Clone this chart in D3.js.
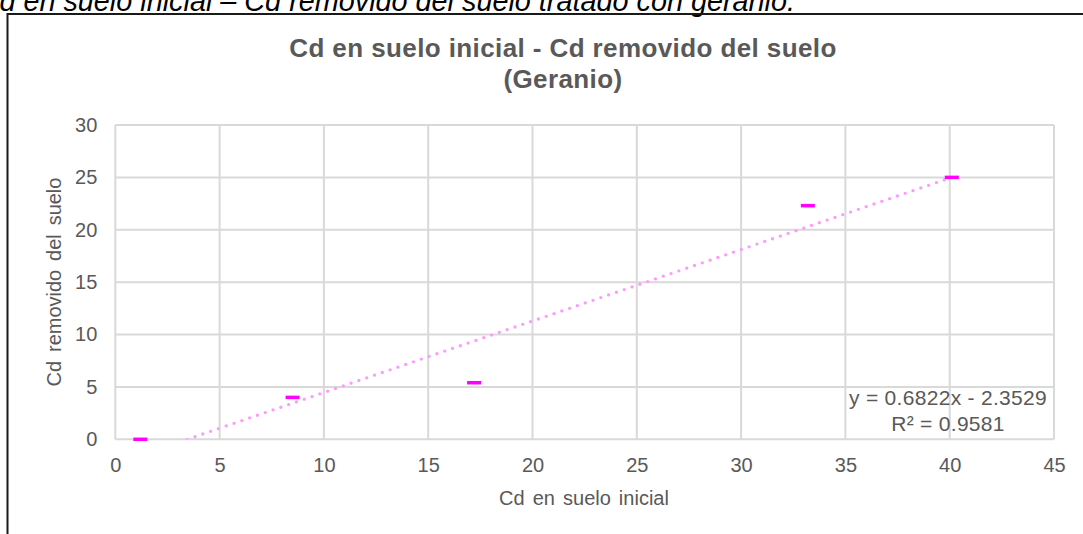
<!DOCTYPE html>
<html>
<head>
<meta charset="utf-8">
<script src="https://cdn.jsdelivr.net/npm/d3@7"></script>
<style>
  body { margin: 0; background: #fff; }
  svg { display: block; font-family: "Liberation Sans", Arial, sans-serif; }
</style>
</head>
<body>
<svg id="chart" width="1083" height="534"></svg>
<script>
// data
const sueloInicial = [1.2, 8.5, 17.2, 33.2, 40.1];
const cdRemovido = [0, 4.0, 5.4, 22.3, 25.0];
const xTicks = [0, 5, 10, 15, 20, 25, 30, 35, 40, 45];
const yTicks = [0, 5, 10, 15, 20, 25, 30];
const slope = 0.6822, intercept = -2.3529;
const eqLines = ['y = 0.6822x - 2.3529', 'R² = 0.9581'];

const svg = d3.select('#chart');
const grey = '#595959';

const m = { left: 115.3, right: 1054, top: 125, bottom: 439.3 };
const x = d3.scaleLinear().domain([0, 45]).range([m.left, m.right]);
const y = d3.scaleLinear().domain([0, 30]).range([m.bottom, m.top]);

// caption cut off at top of the page
svg.append('text')
  .attr('x', 795).attr('y', 10.5)
  .attr('text-anchor', 'end')
  .attr('font-size', 28.8).attr('font-style', 'italic').attr('fill', '#000')
  .text('Cd en suelo inicial – Cd removido del suelo tratado con geranio.');

// chart frame (runs off right and bottom)
svg.append('rect')
  .attr('x', 7.5).attr('y', 14).attr('width', 1200).attr('height', 600)
  .attr('fill', 'none').attr('stroke', '#1a1a1a').attr('stroke-width', 2);

// title
const title = svg.append('text')
  .attr('text-anchor', 'middle').attr('font-weight', 'bold')
  .attr('font-size', 26).attr('letter-spacing', 0.4)
  .attr('fill', grey);
title.append('tspan').attr('x', 563).attr('y', 57).text('Cd en suelo inicial - Cd removido del suelo');
title.append('tspan').attr('x', 563).attr('y', 88).text('(Geranio)');

// gridlines
svg.append('g')
  .selectAll('line').data(xTicks).join('line')
  .attr('x1', d => x(d)).attr('x2', d => x(d))
  .attr('y1', m.top).attr('y2', m.bottom)
  .attr('stroke', '#d9d9d9').attr('stroke-width', 2);
svg.append('g')
  .selectAll('line').data(yTicks).join('line')
  .attr('x1', m.left).attr('x2', m.right)
  .attr('y1', d => y(d)).attr('y2', d => y(d))
  .attr('stroke', '#d9d9d9').attr('stroke-width', 2);

// axes (labels only, Excel style)
const xAxis = svg.append('g')
  .attr('transform', `translate(0,${m.bottom})`)
  .call(d3.axisBottom(x).tickValues(xTicks).tickSize(0).tickPadding(19));
const yAxis = svg.append('g')
  .attr('transform', `translate(${m.left},0)`)
  .call(d3.axisLeft(y).tickValues(yTicks).tickSize(0).tickPadding(18));
[xAxis, yAxis].forEach(g => {
  g.select('.domain').remove();
  g.selectAll('text').attr('font-size', 20).attr('fill', grey)
    .attr('font-family', '"Liberation Sans", Arial, sans-serif');
});

// axis titles
svg.append('text')
  .attr('x', 584).attr('y', 505).attr('text-anchor', 'middle')
  .attr('font-size', 20).attr('word-spacing', 2.5).attr('fill', grey)
  .text('Cd en suelo inicial');
svg.append('text')
  .attr('transform', 'translate(61,282) rotate(-90)')
  .attr('text-anchor', 'middle')
  .attr('font-size', 20).attr('word-spacing', 3.3).attr('fill', grey)
  .text('Cd removido del suelo');

// trendline, clipped to the plot area
svg.append('clipPath').attr('id', 'plot')
  .append('rect').attr('x', m.left).attr('y', m.top)
  .attr('width', m.right - m.left).attr('height', m.bottom - m.top);
const [x0, x1] = d3.extent(sueloInicial);
svg.append('line')
  .attr('clip-path', 'url(#plot)')
  .attr('x1', x(x0)).attr('y1', y(slope * x0 + intercept))
  .attr('x2', x(x1)).attr('y2', y(slope * x1 + intercept))
  .attr('stroke', '#ff99ff').attr('stroke-width', 3.3)
  .attr('stroke-linecap', 'round').attr('stroke-dasharray', '0 8.25');

// dash markers
svg.append('g')
  .selectAll('rect').data(sueloInicial).join('rect')
  .attr('x', d => x(d) - 7).attr('y', (d, i) => y(cdRemovido[i]) - 1.75)
  .attr('width', 14).attr('height', 3.5)
  .attr('fill', '#ff00ff');

// equation label
const eq = svg.append('text')
  .attr('text-anchor', 'middle').attr('font-size', 21)
  .attr('letter-spacing', 0.3).attr('fill', grey);
eq.selectAll('tspan').data(eqLines).join('tspan')
  .attr('x', 948).attr('y', (d, i) => 405 + i * 26)
  .text(d => d);
</script>
</body>
</html>
